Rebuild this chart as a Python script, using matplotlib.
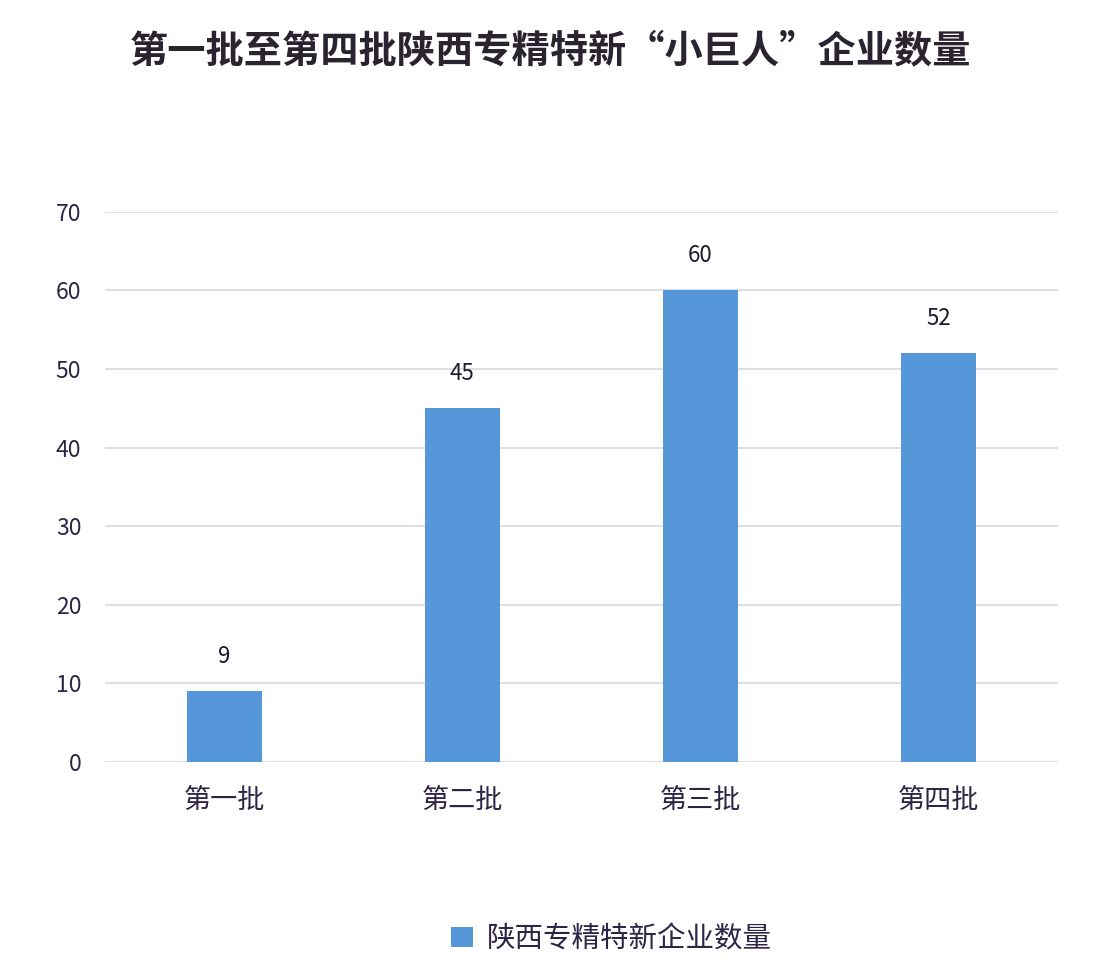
import numpy as np
import matplotlib
matplotlib.use("Agg")
import matplotlib.pyplot as plt

plt.rcParams['font.family'] = ['Noto Sans CJK SC', 'DejaVu Sans']

TITLE = "第一批至第四批陕西专精特新“小巨人”企业数量"
batches = ["第一批", "第二批", "第三批", "第四批"]
counts = [9, 45, 60, 52]
series_name = "陕西专精特新企业数量"
yticks = [0, 10, 20, 30, 40, 50, 60, 70]

bar_color = "#5597d8"
text_color = "#2e2546"
grid_color = "#d5d8e4"

fig = plt.figure(figsize=(11.12, 9.72), dpi=100)
ax = fig.add_axes([0.0944, 0.216, 0.857, 0.566])

x = np.arange(len(batches))
bars = ax.bar(x, counts, width=0.315, color=bar_color, label=series_name, zorder=3)

ax.set_xlim(-0.5, len(batches) - 0.5)
ax.set_ylim(0, 70)
ax.set_yticks(yticks)
ax.set_xticks(x)
ax.set_xticklabels(batches, fontsize=19.5, color=text_color)
ax.tick_params(axis='y', labelsize=16.5, labelcolor=text_color, length=0, pad=17)
ax.tick_params(axis='x', length=0, pad=18)
ax.grid(axis='y', color=grid_color, linewidth=1.2, zorder=0)
for s in ax.spines.values():
  s.set_visible(False)

for xi, c in zip(x, counts):
  ax.annotate(str(c), (xi, c), xytext=(0, 17), textcoords='offset points',
              ha='center', va='bottom', fontsize=16, color="#1e1a2e")

fig.text(0.495, 0.948, TITLE, ha='center', va='center', fontsize=27.5,
         fontweight='bold', color="#2a2330")

fig.legend(loc='center', bbox_to_anchor=(0.55, 0.034), frameon=False,
           fontsize=20.5, handlelength=0.75, handleheight=0.75, handletextpad=0.5,
           labelcolor=text_color)

fig.savefig("out.png", dpi=100, facecolor='white')
